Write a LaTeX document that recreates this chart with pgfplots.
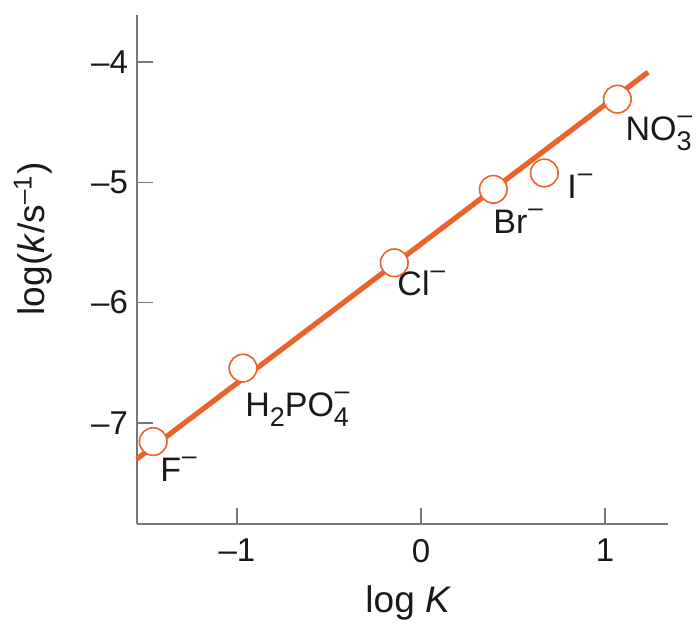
\documentclass[border=0pt]{standalone}
\usepackage{fontspec}
\setmainfont{Liberation Sans}
\usepackage{pgfplots}
\pgfplotsset{compat=1.18}
\definecolor{lineor}{RGB}{234,98,44}
\definecolor{axgray}{RGB}{120,120,120}
\definecolor{txt}{RGB}{25,25,25}
\newcommand\mn{\kern0.5pt\raisebox{8.4pt}{\fontsize{13}{13}\selectfont –}}
\newcommand\sub[1]{\raisebox{-5pt}{\fontsize{13.5}{13.5}\selectfont #1}}
\newcommand\stk[1]{\rlap{\kern0.5pt\raisebox{8.4pt}{\fontsize{13}{13}\selectfont –}}\sub{#1}}
\begin{document}
\begin{tikzpicture}
\begin{axis}[
  scale only axis,
  width=265.5pt, height=254.5pt,
  xmin=-1.543, xmax=1.342,
  ymin=-7.842, ymax=-3.608,
  axis lines=left,
  axis line style={-, draw=axgray, line width=0.8pt},
  tick style={draw=axgray, line width=0.8pt},
  major tick length=8pt,
  tick align=inside,
  xtick={-1,0,1}, xticklabels={–1,0,1},
  ytick={-7,-6,-5,-4}, yticklabels={–7,–6,–5,–4},
  ticklabel style={font=\fontsize{16.5}{16.5}\selectfont, text=txt},
  xticklabel style={yshift=-4pt},
  yticklabel style={xshift=-1pt},
  xlabel={log \textit{K}},
  ylabel={log(\textit{k}/s\textsuperscript{–1})},
  label style={font=\fontsize{18.5}{18.5}\selectfont, text=txt},
  xlabel style={at={(axis description cs:0.511,-0.155)}, anchor=center},
  ylabel style={at={(axis description cs:-0.196,0.56)}, anchor=center},
  clip=false,
]
\path (axis description cs:-0.258,-0.1906) rectangle (axis description cs:1.0565,1.0295);
\addplot[no marks, draw=lineor, line width=2.6pt] coordinates {(-1.543,-7.30) (1.234,-4.083)};
\addplot[only marks, mark=*, mark size=6.9pt, mark options={fill=white, draw=lineor, line width=0.8pt}] coordinates {
(-1.455,-7.156)
(-0.967,-6.545)
(-0.145,-5.669)
(0.393,-5.058)
(0.670,-4.922)
(1.067,-4.308)
};
\begin{scope}[every node/.style={anchor=base west, inner sep=0pt, font=\fontsize{17}{17}\selectfont, text=txt}]
\node at (axis cs:-1.418,-7.49) {F\mn};
\node at (axis cs:-0.957,-6.95) {H\sub{2}PO\stk{4}};
\node at (axis cs:-0.130,-5.94) {Cl\mn};
\node at (axis cs:0.391,-5.425) {Br\mn};
\node at (axis cs:0.793,-5.133) {I\mn};
\node at (axis cs:1.109,-4.65) {NO\stk{3}};
\end{scope}
\end{axis}
\end{tikzpicture}
\end{document}
